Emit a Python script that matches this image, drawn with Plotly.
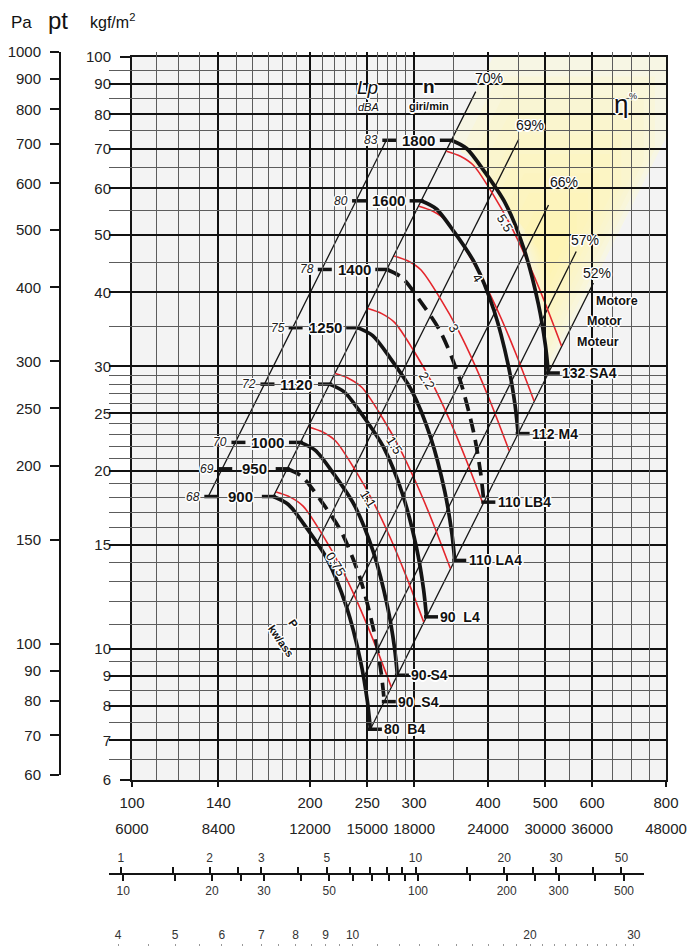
import numpy as np
import plotly.graph_objects as go

W, H = 689, 946

# ---------------- data ----------------
SPEEDS = [900, 950, 1000, 1120, 1250, 1400, 1600, 1800]
SPEED_DASHED = [False, True, False, False, False, True, False, False]
LP_DBA = [68, 69, 70, 72, 75, 78, 80, 83]
LP_Q = [134.6, 142.1, 149.6, 167.5, 186.9, 209.4, 239.3, 269.2]
MOTORS = ["80  B4", "90  S4", "90 S4", "90  L4", "110 LA4", "110 LB4", "112 M4", "132 SA4"]

Q_900 = [173.4, 183.8, 197.2, 214.0, 230.4, 243.4, 250.1, 253.0]
P_900 = [18.08, 17.53, 16.02, 14.15, 11.79, 9.55, 8.14, 7.31]
Q_950 = [183.0, 194.0, 208.2, 225.9, 243.2, 256.9, 264.0, 267.1]
P_950 = [20.14, 19.53, 17.85, 15.77, 13.14, 10.64, 9.07, 8.14]
Q_1000 = [192.7, 204.2, 219.1, 237.8, 256.0, 270.4, 277.9, 281.1]
P_1000 = [22.32, 21.64, 19.78, 17.47, 14.56, 11.79, 10.05, 9.02]
Q_1120 = [215.8, 228.7, 245.4, 266.3, 286.7, 302.9, 311.2, 314.8]
P_1120 = [28.00, 27.15, 24.81, 21.91, 18.26, 14.79, 12.61, 11.32]
Q_1250 = [240.8, 255.3, 273.9, 297.2, 320.0, 338.1, 347.4, 351.4]
P_1250 = [34.88, 33.82, 30.90, 27.30, 22.74, 18.42, 15.70, 14.10]
Q_1400 = [269.7, 285.9, 306.8, 332.9, 358.4, 378.6, 389.0, 393.6]
P_1400 = [43.75, 42.42, 38.76, 34.24, 28.53, 23.11, 19.70, 17.69]
Q_1600 = [308.3, 326.8, 350.6, 380.4, 409.6, 432.7, 444.6, 449.8]
P_1600 = [57.14, 55.40, 50.63, 44.72, 37.26, 30.18, 25.73, 23.10]
Q_1800 = [346.8, 367.6, 394.4, 428.0, 460.8, 486.8, 500.2, 506.0]
P_1800 = [72.32, 70.12, 64.08, 56.60, 47.16, 38.20, 32.56, 29.24]

RED_LABELS = ["0.75", "1.1", "1.5", "2.2", "3", "4", "5.5"]
Q_R075 = [175.3, 185.1, 194.7, 210.5, 224.9, 240.4, 255.8, 274.4]
P_R075 = [18.40, 18.04, 17.42, 15.51, 13.80, 12.00, 10.35, 8.62]
Q_R11 = [199.0, 210.1, 221.0, 238.9, 255.3, 272.9, 290.3, 311.4]
P_R11 = [23.70, 23.24, 22.44, 19.98, 17.78, 15.46, 13.33, 11.10]
Q_R15 = [220.7, 233.0, 245.1, 265.0, 283.2, 302.7, 322.1, 345.5]
P_R15 = [29.17, 28.60, 27.61, 24.59, 21.87, 19.02, 16.41, 13.66]
Q_R22 = [250.5, 264.5, 278.2, 300.8, 321.4, 343.5, 365.5, 392.1]
P_R22 = [37.57, 36.84, 35.57, 31.67, 28.18, 24.50, 21.13, 17.60]
Q_R3 = [277.5, 293.0, 308.2, 333.2, 356.0, 380.6, 404.9, 434.4]
P_R3 = [46.11, 45.21, 43.65, 38.87, 34.58, 30.07, 25.94, 21.60]
Q_R4 = [305.7, 322.8, 339.6, 367.1, 392.2, 419.3, 446.1, 478.6]
P_R4 = [55.96, 54.87, 52.98, 47.17, 41.97, 36.50, 31.48, 26.22]
Q_R55 = [340.3, 359.3, 377.9, 408.6, 436.5, 466.6, 496.5, 532.6]
P_R55 = [69.32, 67.97, 65.63, 58.43, 51.99, 45.21, 38.99, 32.48]

EFF_LABELS = ["70%", "69%", "66%", "57%", "52%"]
EFF_Q_LOW = [173.4, 205.5, 231.0, 246.3, 253.0]
EFF_P_LOW = [18.08, 15.10, 11.70, 8.93, 7.31]
EFF_Q_TOP = [381.3, 450.8, 506.3, 564.0, 603.0]
EFF_P_TOP = [87.4, 72.6, 56.23, 46.9, 41.5]

X_MAJOR = [100, 140, 200, 250, 300, 400, 500, 600, 800]
X_MINOR = [110, 120, 130, 150, 160, 170, 180, 190, 210, 220, 230, 240, 260, 270, 280, 290,
           350, 450, 550, 650, 700, 750]
X_M3H = [6000, 8400, 12000, 15000, 18000, 24000, 30000, 36000, 48000]
Y_MAJOR = [6, 7, 8, 9, 10, 15, 20, 25, 30, 40, 50, 60, 70, 80, 90, 100]
Y_MINOR = [6.5, 7.5, 8.5, 9.5, 11, 12, 13, 14, 16, 17, 18, 19, 21, 22, 23, 24, 26, 27, 28, 29,
           35, 45, 55, 65, 75, 85, 95]
PA_TICKS = [60, 70, 80, 90, 100, 150, 200, 250, 300, 400, 500, 600, 700, 800, 900, 1000]
PD_KGF_LABELED = [1, 2, 3, 5, 10, 20, 30, 50]
PD_KGF_MINOR = [1.5, 2.5, 4, 6, 7, 8, 9, 15, 25, 40]
PD_PA_LABELED = [10, 20, 30, 50, 100, 200, 300, 500]
PD_PA_MINOR = [15, 25, 40, 60, 70, 80, 90, 150, 250, 400]
V_LABELED = [4, 5, 6, 7, 8, 9, 10, 20, 30]
V_MINOR = [4.5, 5.5, 6.5, 7.5, 8.5, 9.5, 11, 12, 13, 14, 15, 16, 17, 18, 19, 21, 22, 23, 24,
           25, 26, 27, 28, 29]

FAN_Q = [Q_900, Q_950, Q_1000, Q_1120, Q_1250, Q_1400, Q_1600, Q_1800]
FAN_P = [P_900, P_950, P_1000, P_1120, P_1250, P_1400, P_1600, P_1800]
RED_Q = [Q_R075, Q_R11, Q_R15, Q_R22, Q_R3, Q_R4, Q_R55]
RED_P = [P_R075, P_R11, P_R15, P_R22, P_R3, P_R4, P_R55]

# ---------------- styling ----------------
FONT = "Liberation Sans Narrow, Arial Narrow, Liberation Sans, Arial, sans-serif"
BLACK = "#141414"
RED = "#e4252b"
HALO = ("1.5px 0 0 #fff, -1.5px 0 0 #fff, 0 1.5px 0 #fff, 0 -1.5px 0 #fff, "
        "1px 1px 0 #fff, -1px -1px 0 #fff, 1px -1px 0 #fff, -1px 1px 0 #fff")
PX_DEC = 591.0  # pixels per decade on both main axes


def shiftq(q, px):
    return q * 10 ** (px / PX_DEC)


lg = np.log10
fig = go.Figure()

# efficiency / system lines
for i in range(len(EFF_LABELS)):
    fig.add_trace(go.Scatter(x=[EFF_Q_LOW[i], EFF_Q_TOP[i]], y=[EFF_P_LOW[i], EFF_P_TOP[i]],
                             mode="lines", line=dict(color=BLACK, width=1.3),
                             hoverinfo="skip", showlegend=False))
# Lp line
fig.add_trace(go.Scatter(x=[LP_Q[0], LP_Q[-1]], y=[P_900[0], P_1800[0]], mode="lines",
                         line=dict(color=BLACK, width=1.3), hoverinfo="skip", showlegend=False))
# red power curves
for i in range(len(RED_LABELS)):
    fig.add_trace(go.Scatter(x=RED_Q[i], y=RED_P[i], mode="lines",
                             line=dict(color=RED, width=1.6, shape="spline", smoothing=0.8),
                             hoverinfo="skip", showlegend=False))
# fan curves
for i in range(len(SPEEDS)):
    fig.add_trace(go.Scatter(x=FAN_Q[i], y=FAN_P[i], mode="lines",
                             line=dict(color=BLACK, width=3.7, shape="spline", smoothing=0.8,
                                       dash="14px,8px" if SPEED_DASHED[i] else "solid"),
                             hoverinfo="skip", showlegend=False))
# tick dashes
start_q = [shiftq(q[0], -4.5) for q in FAN_Q]
start_p = [p[0] for p in FAN_P]
end_q = [shiftq(q[-1], 4.5) for q in FAN_Q]
end_p = [p[-1] for p in FAN_P]
lp_q = [shiftq(q, 3) for q in LP_Q]
fig.add_trace(go.Scatter(x=start_q + end_q + lp_q, y=start_p + end_p + start_p, mode="markers",
                         marker=dict(symbol="line-ew", size=10, line=dict(width=3.5, color=BLACK)),
                         hoverinfo="skip", showlegend=False))

# dummy traces for auxiliary axes
for xa, ya, xv, yv in [("x", "y2", 200, 100), ("x2", "y", 12000, 10), ("x3", "y", 5, 10),
                       ("x4", "y", 50, 10), ("x5", "y", 10, 10)]:
    fig.add_trace(go.Scatter(x=[xv], y=[yv], xaxis=xa, yaxis=ya, mode="markers",
                             marker=dict(opacity=0), hoverinfo="skip", showlegend=False))

# ---------------- background shapes ----------------
shapes = [dict(type="rect", xref="x domain", yref="y domain", x0=0, x1=1, y0=0, y1=1,
               fillcolor="#f3f3f3", line=dict(width=0), layer="below")]
# yellow optimal-efficiency zone: 70% line, top edge, 52% (motor) line, 1800 curve
q70_top = EFF_Q_LOW[0] * np.sqrt(100 / EFF_P_LOW[0])
p52_right = EFF_P_LOW[4] * (800 / EFF_Q_LOW[4]) ** 2
poly = [(Q_1800[0], P_1800[0]), (q70_top, 100), (800, 100), (800, p52_right),
        (Q_1800[-1], P_1800[-1])] + list(zip(Q_1800[::-1], P_1800[::-1]))[1:]
centre = (lg(505), lg(45))
c_out, c_in = np.array([247, 246, 228]), np.array([254, 244, 180])
n_layers = 10
for k in range(n_layers):
    t = k / (n_layers - 1)
    scale = 1.0 - 0.85 * t
    col = c_out + (c_in - c_out) * (t ** 0.7)
    colour = "rgb(%d,%d,%d)" % tuple(np.round(col))
    pts = [(10 ** (centre[0] + scale * (lg(q) - centre[0])),
            10 ** (centre[1] + scale * (lg(p) - centre[1]))) for q, p in poly]
    path = "M " + " L ".join(f"{q:.3f},{p:.3f}" for q, p in pts) + " Z"
    shapes.append(dict(type="path", xref="x", yref="y", path=path, fillcolor=colour,
                       line=dict(width=0), layer="below"))

# ---------------- annotations ----------------
anns = []


def txt(x, y, text, size=14, bold=False, italic=False, xanchor="center", yanchor="middle",
        angle=0, xshift=0, yshift=0, ref="data", halo=True, color="#111"):
    if ref == "data":
        xr, yr, xx, yy = "x", "y", lg(x), lg(y)
    else:
        xr, yr, xx, yy = "paper", "paper", x / W, 1 - y / H
    anns.append(dict(x=xx, y=yy, xref=xr, yref=yr, text=text, showarrow=False,
                     xanchor=xanchor, yanchor=yanchor, textangle=angle,
                     xshift=xshift, yshift=yshift,
                     font=dict(family=FONT, size=size, color=color,
                               weight="bold" if bold else "normal",
                               style="italic" if italic else "normal",
                               shadow=HALO if halo else "none")))


for i, n in enumerate(SPEEDS):
    txt(np.sqrt(LP_Q[i] * FAN_Q[i][0]), FAN_P[i][0], str(n), size=15, bold=True)
    txt(LP_Q[i], FAN_P[i][0], str(LP_DBA[i]), size=12, italic=True, xanchor="right", xshift=-6,
        color="#222")
    txt(FAN_Q[i][-1], FAN_P[i][-1], MOTORS[i], size=14, bold=True, xanchor="left", xshift=12)

for i, lab in enumerate(RED_LABELS):
    txt(RED_Q[i][4], RED_P[i][4], lab, size=13, angle=58, xshift=-5, yshift=2)

eff_shift = [(13, 14), (11, 14), (15, 23), (9, 12), (4, 10)]
for i, lab in enumerate(EFF_LABELS):
    txt(EFF_Q_TOP[i], EFF_P_TOP[i], lab, size=14, xshift=eff_shift[i][0], yshift=eff_shift[i][1])

txt(617, 301, "Motore", size=12.5, bold=True, ref="paper")
txt(604, 321, "Motor", size=12.5, bold=True, ref="paper")
txt(598, 342, "Moteur", size=12.5, bold=True, ref="paper")
txt(367, 87, "<i>Lp</i>", size=19, ref="paper")
txt(368, 107, "dBA", size=11, italic=True, ref="paper")
txt(429, 86, "n", size=19, bold=True, ref="paper")
txt(429, 106, "giri/min", size=11, bold=True, ref="paper")
txt(621, 104, "η", size=26, ref="paper")
txt(633, 96, "%", size=9, ref="paper")
txt(293, 623, "P", size=11, bold=True, angle=55, ref="paper")
txt(281, 641, "kw/ass", size=11, bold=True, angle=55, ref="paper")
txt(21, 22, "Pa", size=17, ref="paper", halo=False)
txt(58, 20, "pt", size=24, ref="paper", halo=False)
txt(112, 21, "kgf/m<sup>2</sup>", size=16, ref="paper", halo=False)

# ---------------- axes ----------------
tickfont = dict(family=FONT, size=15, color="#222")
small = dict(family=FONT, size=12, color="#333")
MAJ_GRID, MIN_GRID = "#111111", "#5c5c5c"

fig.update_layout(
    width=W, height=H, margin=dict(l=0, r=0, t=0, b=0, pad=0, autoexpand=False), autosize=False,
    paper_bgcolor="white", plot_bgcolor="rgba(0,0,0,0)", showlegend=False,
    shapes=shapes, annotations=anns,
    xaxis=dict(type="log", range=[2, lg(800)], domain=[132 / W, 666 / W], anchor="y",
               tickmode="array", tickvals=X_MAJOR, ticktext=[str(v) for v in X_MAJOR],
               ticks="outside", ticklen=5, tickwidth=2, tickcolor=BLACK,
               showline=True, linewidth=2, linecolor=BLACK, mirror=True,
               showgrid=True, gridcolor=MAJ_GRID, gridwidth=1.8, zeroline=False,
               minor=dict(tickmode="array", tickvals=X_MINOR, showgrid=True,
                          gridcolor=MIN_GRID, gridwidth=1.2, ticks=""),
               tickfont=tickfont, ticklabelstandoff=3, automargin=False),
    yaxis=dict(type="log", range=[lg(6), 2], domain=[(H - 780) / H, (H - 57) / H], anchor="x",
               tickmode="array", tickvals=Y_MAJOR, ticktext=[str(v) for v in Y_MAJOR],
               ticks="outside", ticklen=10, tickwidth=2, tickcolor=BLACK,
               showline=True, linewidth=2, linecolor=BLACK, mirror=True,
               showgrid=True, gridcolor=MAJ_GRID, gridwidth=1.8, zeroline=False,
               minor=dict(tickmode="array", tickvals=Y_MINOR, showgrid=True,
                          gridcolor=MIN_GRID, gridwidth=1.2, ticks=""),
               tickfont=tickfont, ticklabelstandoff=6, automargin=False),
    yaxis2=dict(type="log", range=[lg(60), 3], domain=[(H - 775) / H, (H - 52) / H],
                anchor="free", position=60 / W, side="left",
                tickmode="array", tickvals=PA_TICKS, ticktext=[str(v) for v in PA_TICKS],
                ticks="outside", ticklen=9, tickwidth=2, tickcolor=BLACK,
                showline=True, linewidth=2, linecolor=BLACK, showgrid=False, zeroline=False,
                tickfont=tickfont, ticklabelstandoff=6, automargin=False),
    xaxis2=dict(type="log", range=[lg(6000), lg(48000)], overlaying="x", anchor="free",
                position=(H - 818) / H, side="bottom", tickmode="array", tickvals=X_M3H,
                ticktext=[str(v) for v in X_M3H], ticks="", showline=False, showgrid=False,
                zeroline=False, tickfont=tickfont, automargin=False),
    xaxis3=dict(type="log", range=[0.9515 - lg(9.807), 2.7669 - lg(9.807)],
                domain=[109 / W, 644 / W], anchor="free", position=(H - 874) / H, side="top",
                tickmode="array", tickvals=PD_KGF_LABELED,
                ticktext=[str(v) for v in PD_KGF_LABELED],
                ticks="outside", ticklen=6, tickwidth=1.5, tickcolor=BLACK,
                minor=dict(tickmode="array", tickvals=PD_KGF_MINOR, ticks="outside", ticklen=6,
                           tickwidth=1.5, tickcolor=BLACK, showgrid=False),
                showline=True, linewidth=1.5, linecolor=BLACK, showgrid=False, zeroline=False,
                tickfont=small, automargin=False),
    xaxis4=dict(type="log", range=[0.9515, 2.7669], overlaying="x3", anchor="free",
                position=(H - 874) / H, side="bottom", tickmode="array",
                tickvals=PD_PA_LABELED, ticktext=[str(v) for v in PD_PA_LABELED],
                ticks="outside", ticklen=6, tickwidth=1.5, tickcolor=BLACK,
                minor=dict(tickmode="array", tickvals=PD_PA_MINOR, ticks="outside", ticklen=6,
                           tickwidth=1.5, tickcolor=BLACK, showgrid=False),
                showline=False, showgrid=False, zeroline=False, tickfont=small, automargin=False),
    xaxis5=dict(type="log", range=[0.5867, 1.4944], domain=[109 / W, 644 / W], anchor="free",
                position=0, side="top", tickmode="array", tickvals=V_LABELED,
                ticktext=[str(v) for v in V_LABELED], ticks="outside", ticklen=2, tickwidth=1,
                tickcolor="#999", showline=False, showgrid=False, zeroline=False,
                minor=dict(tickmode="array", tickvals=V_MINOR, ticks="outside", ticklen=2,
                           tickwidth=1, tickcolor="#999", showgrid=False),
                tickfont=small, automargin=False),
)

fig.write_html(
    "out.html",
    config={"displayModeBar": False},
    post_script="document.body.style.margin='0px';document.body.style.padding='0px';"
                "document.body.style.overflow='hidden';",
)
